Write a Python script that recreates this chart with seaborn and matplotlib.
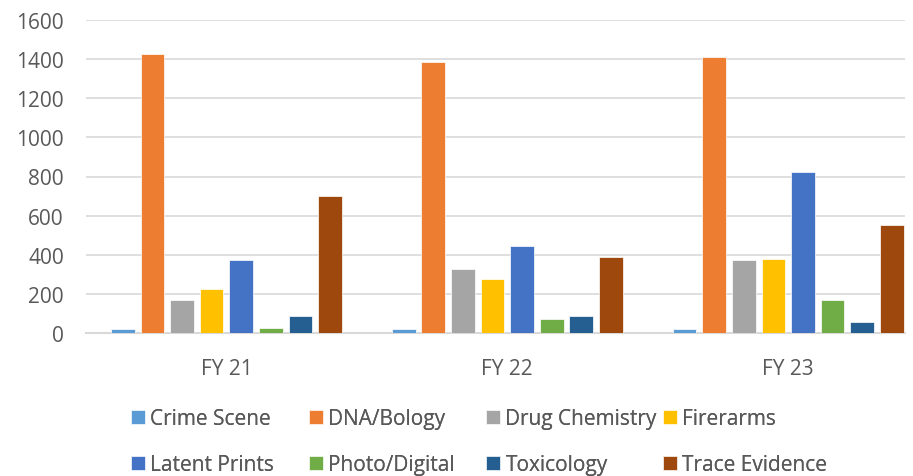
import matplotlib
matplotlib.use("Agg")
import matplotlib.pyplot as plt
import pandas as pd
import seaborn as sns

# datos
anios = ["FY 21", "FY 22", "FY 23"]
secciones = ["Crime Scene", "DNA/Bology", "Drug Chemistry", "Firerarms",
             "Latent Prints", "Photo/Digital", "Toxicology", "Trace Evidence"]
crime_scene = [18, 19, 22]
dna = [1426, 1385, 1412]
drug = [170, 326, 373]
firearms = [223, 274, 376]
latent = [373, 447, 824]
photo = [24, 72, 167]
toxicology = [88, 89, 56]
trace = [700, 390, 551]

colores = ["#5B9BD5", "#ED7D31", "#A5A5A5", "#FFC000",
           "#4472C4", "#70AD47", "#255E91", "#9E480E"]

series = [crime_scene, dna, drug, firearms, latent, photo, toxicology, trace]
filas = []
for nombre, valores in zip(secciones, series):
    for anio, v in zip(anios, valores):
        filas.append({"anio": anio, "seccion": nombre, "valor": v})
df = pd.DataFrame(filas)

sns.set_style("white")
plt.rcParams["font.family"] = ["Open Sans", "DejaVu Sans"]

fig = plt.figure(figsize=(9.13, 4.77), dpi=100)
ax = fig.add_axes([86 / 913, 1 - 334 / 477, 819 / 913, 313 / 477])

sns.barplot(data=df, x="anio", y="valor", hue="seccion", order=anios,
            hue_order=secciones, palette=colores, saturation=1,
            width=0.843, gap=0.2, edgecolor="white", linewidth=0.5,
            ax=ax, zorder=3, legend=True)

ax.set_ylim(0, 1600)
ax.set_yticks(range(0, 1601, 200))
ax.set_xlim(-0.5, 2.416)
ax.grid(axis="y", color="#D9D9D9", linewidth=1.2, zorder=0)
ax.set_axisbelow(True)
for s in ["top", "right", "left"]:
    ax.spines[s].set_visible(False)
ax.spines["bottom"].set_color("#D9D9D9")
ax.spines["bottom"].set_linewidth(1.5)
ax.tick_params(axis="both", length=0, labelsize=15, colors="#595959")
ax.tick_params(axis="x", pad=18)
ax.tick_params(axis="y", pad=16)
ax.set_xlabel("")
ax.set_ylabel("")

# leyenda: cuatro columnas de ancho fijo, dos filas
handles, labels = ax.get_legend_handles_labels()
ax.get_legend().remove()
columnas_x = [131, 309, 486, 663]
for c, x in enumerate(columnas_x):
    idx = [c, c + 4]
    leg = fig.legend([handles[i] for i in idx], [labels[i] for i in idx],
                     loc="center left", bbox_to_anchor=(x / 913, 1 - 442.5 / 477),
                     frameon=False, fontsize=15, labelcolor="#595959",
                     handlelength=0.68, handleheight=0.68, handletextpad=0.25,
                     labelspacing=1.2, borderpad=0, borderaxespad=0)
    fig.add_artist(leg)

fig.savefig("out.png", dpi=100)
